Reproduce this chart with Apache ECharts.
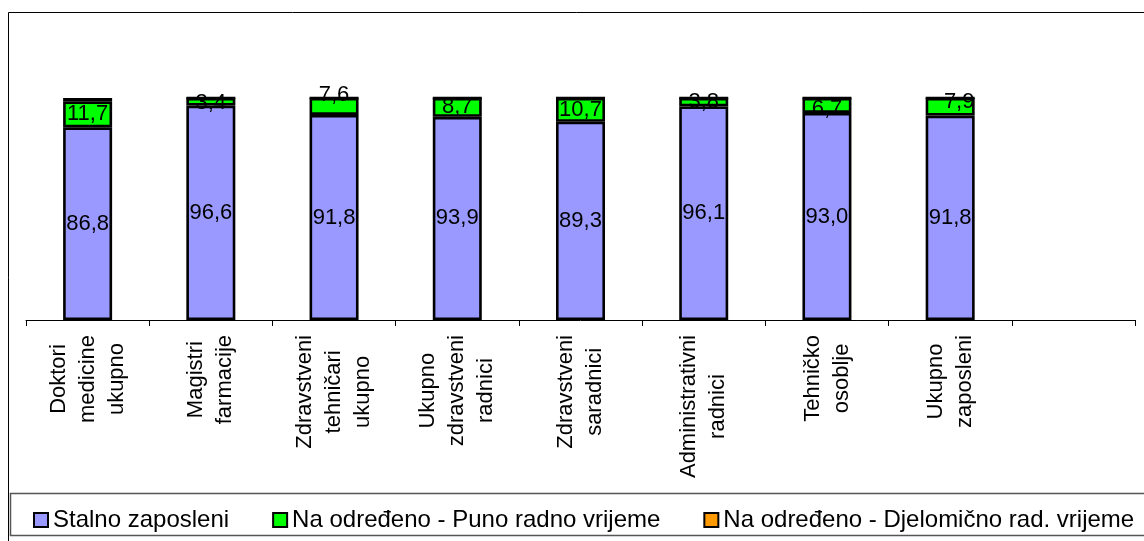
<!DOCTYPE html>
<html>
<head>
<meta charset="utf-8">
<script src="https://cdn.jsdelivr.net/npm/echarts@6/dist/echarts.min.js"></script>
<style>
  html, body { margin: 0; padding: 0; background: #fff; }
  #chart { width: 1144px; height: 541px; }
</style>
</head>
<body>
<div id="chart"></div>
<script>
// Categories (the last slot is intentionally empty)
const categories = [
  'Doktori\nmedicine\nukupno',
  'Magistri\nfarmacije',
  'Zdravstveni\ntehničari\nukupno',
  'Ukupno\nzdravstveni\nradnici',
  'Zdravstveni\nsaradnici',
  'Administrativni\nradnici',
  'Tehničko\nosoblje',
  'Ukupno\nzaposleni',
  ''
];

const seriesNames = [
  'Stalno zaposleni',
  'Na određeno - Puno radno vrijeme',
  'Na određeno - Djelomično rad. vrijeme'
];

// Percentages per category
const stalno     = [86.8, 96.6, 91.8, 93.9, 89.3, 96.1, 93.0, 91.8];
const puno       = [11.7, 3.4, 7.6, 8.7, 10.7, 3.8, 6.7, 7.9];
const djelomicno = [1.5, 0, 0, 0, 0, 0, 0, 0];

// Label nudges for the green segments [dx, dy]
const punoLabelOffsets = [[0, 0], [0, 1], [0, -12], [0, 0], [0, 0], [0, 0], [0, 3], [9, -5]];

const colors = ['#9999FF', '#00FF00', '#FF9900'];
const FONT = "'Liberation Sans', Arial, sans-serif";

// 100% stacking: each bar is scaled to its own total
const totals = stalno.map((v, i) => v + puno[i] + djelomicno[i]);
const share = (arr) => arr.map((v, i) => ({ raw: v, value: v / totals[i] * 100 }));

const fmt = (v) => v.toFixed(1).replace('.', ',');

function buildSeries(arr, idx, withLabel, offsets) {
  return {
    name: seriesNames[idx],
    type: 'bar',
    stack: 'total',
    barWidth: 49,
    itemStyle: { color: colors[idx], borderColor: '#000', borderWidth: 2.6 },
    label: { show: false },
    data: share(arr).map((d, i) => {
      const item = { value: d.value, raw: d.raw };
      if (withLabel && d.raw > 0) {
        item.label = {
          show: true,
          position: 'inside',
          formatter: fmt(d.raw),
          color: '#000',
          fontFamily: FONT,
          fontSize: 22,
          offset: offsets ? offsets[i] : [0, 0]
        };
      }
      return item;
    })
  };
}

const chart = echarts.init(document.getElementById('chart'), null, { renderer: 'canvas' });

chart.setOption({
  animation: false,
  backgroundColor: '#fff',
  grid: { left: 26, right: 9, top: 98, bottom: 221 },
  xAxis: {
    type: 'category',
    data: categories,
    axisLine: { show: true, lineStyle: { color: '#000', width: 1 } },
    axisTick: { show: true, alignWithLabel: false, length: 6, lineStyle: { color: '#000' } },
    axisLabel: {
      rotate: 90,
      interval: 0,
      margin: 15,
      formatter: (v) => v.split('\n').map(s => '{c|' + s + '}').join('\n'),
      rich: {
        c: { align: 'center', fontFamily: FONT, fontSize: 22, lineHeight: 29, color: '#000', padding: [0, 0, 0, 0] }
      }
    }
  },
  yAxis: {
    type: 'value',
    min: 0,
    max: 100,
    show: false,
    splitLine: { show: false }
  },
  legend: {
    left: 28,
    top: 503,
    width: 1200,
    itemWidth: 14,
    itemHeight: 14,
    itemGap: 43,
    icon: 'rect',
    itemStyle: { borderColor: '#000', borderWidth: 2 },
    textStyle: { fontFamily: FONT, fontSize: 24, color: '#000' },
    data: seriesNames
  },
  graphic: [
    {
      type: 'rect',
      shape: { x: 8.5, y: 12.5, width: 1200, height: 600 },
      style: { fill: null, stroke: '#000', lineWidth: 1 },
      silent: true
    },
    {
      type: 'rect',
      shape: { x: 10.5, y: 493.5, width: 1200, height: 42 },
      style: { fill: null, stroke: '#555', lineWidth: 1.5 },
      silent: true
    }
  ],
  series: [
    buildSeries(stalno, 0, true, null),
    buildSeries(puno, 1, true, punoLabelOffsets),
    buildSeries(djelomicno, 2, false, null)
  ]
});
</script>
</body>
</html>
